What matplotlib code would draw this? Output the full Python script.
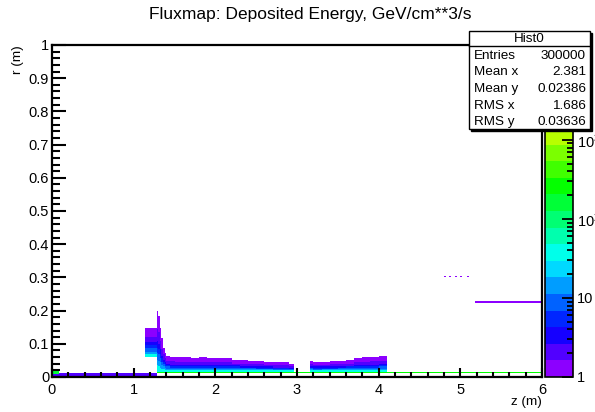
import colorsys
import matplotlib
matplotlib.use("Agg")
import matplotlib.pyplot as plt
import numpy as np
from matplotlib.colors import ListedColormap, LogNorm
from matplotlib.patches import Rectangle
from matplotlib.ticker import MultipleLocator, LogLocator, FixedLocator, NullFormatter

plt.rcParams['font.family'] = ['Liberation Sans', 'DejaVu Sans']

# ---- data ----
# histogram binning (z along beam, r radial), metres
z_edges = np.arange(0, 6.0001, 0.02)
r_edges = np.arange(0, 1.0001, 0.004)

# colour levels of the deposit from the inner edge outwards
band_levels = [40, 15, 8, 5, 3.5, 2.5, 1.8, 1.4, 1.2, 1.05]

# main deposit after the collimator: step start (z) and upper edge (r)
dep1_z = [1.28, 1.30, 1.32, 1.34, 1.36, 1.38, 1.40, 1.45, 1.50, 1.60, 1.70, 1.80,
          1.90, 2.00, 2.10, 2.20, 2.30, 2.40, 2.50, 2.60, 2.70, 2.80, 2.90]
dep1_top = [0.200, 0.185, 0.150, 0.115, 0.090, 0.072, 0.063, 0.060, 0.058, 0.058,
            0.057, 0.058, 0.057, 0.057, 0.055, 0.053, 0.051, 0.050, 0.048, 0.046,
            0.044, 0.042, 0.040]
dep1_end = 2.96

# second deposit
dep2_z = [3.16, 3.20, 3.30, 3.40, 3.50, 3.60, 3.70, 3.80, 3.90, 4.00]
dep2_top = [0.050, 0.045, 0.046, 0.048, 0.050, 0.052, 0.055, 0.058, 0.060, 0.063]
dep2_end = 4.10

# block in front of the collimator
block_z = [1.14, 1.28]
block_r = [0.060, 0.148]

# thin lines: (z start, z end, r low, r high, counts)
lines = [
    (0.00, 1.28, 0.004, 0.012, 2.0),
    (0.00, 0.08, 0.008, 0.020, 200.0),
    (1.28, 6.00, 0.012, 0.016, 250.0),
    (5.18, 6.00, 0.224, 0.228, 1.3),
]

# isolated hits
dots_z = [4.82, 4.88, 4.96, 5.02, 5.10]
dots_r = [0.301, 0.301, 0.301, 0.301, 0.301]

# statistics box
stats_names = ["Entries", "Mean x", "Mean y", "RMS x", "RMS y"]
stats_values = ["300000", "2.381", "0.02386", "1.686", "0.03636"]

# ---- fill histogram ----
zc = 0.5 * (z_edges[:-1] + z_edges[1:])
rc = 0.5 * (r_edges[:-1] + r_edges[1:])
H = np.zeros((len(zc), len(rc)))


def fill_band(kz, ktop, zend, r0):
    kz = np.asarray(kz)
    for i, z in enumerate(zc):
        if z < kz[0] or z > zend:
            continue
        top = ktop[np.searchsorted(kz, z, side='right') - 1]
        for j, r in enumerate(rc):
            if r0 <= r < top:
                f = (r - r0) / (top - r0)
                H[i, j] = max(H[i, j], band_levels[int(f * len(band_levels))])


fill_band(dep1_z, dep1_top, dep1_end, 0.016)
fill_band(dep2_z, dep2_top, dep2_end, 0.016)
fill_band(block_z[:1], [block_r[1]], block_z[1], block_r[0])

for z0, z1, r0, r1, c in lines:
    m = ((zc >= z0) & (zc < z1))[:, None] & ((rc >= r0) & (rc < r1))[None, :]
    H[m] = np.maximum(H[m], c)

for z, r in zip(dots_z, dots_r):
    H[np.searchsorted(z_edges, z) - 1, np.searchsorted(r_edges, r) - 1] = 1.0

Hm = np.ma.masked_less(H.T, 1.0)

# rainbow palette, 20 contours
ncont = 20
cols = [colorsys.hls_to_rgb((280 - (k + 0.5) * 14) / 360.0, 0.5, 1.0) for k in range(ncont)]
cmap = ListedColormap(cols)
cmap.set_bad('white')
norm = LogNorm(vmin=1, vmax=10 ** 4.2)

# ---- figure ----
W, Hpx = 595, 412
fig = plt.figure(figsize=(W / 100, Hpx / 100), dpi=100)


def fx(x):
    return x / W


def fy(y):
    return 1 - y / Hpx


ax = fig.add_axes([fx(52), fy(377), fx(542) - fx(52), fy(45) - fy(377)])
ax.pcolormesh(z_edges, r_edges, Hm, cmap=cmap, norm=norm)
ax.set_xlim(0, 6)
ax.set_ylim(0, 1)

ax.xaxis.set_major_locator(MultipleLocator(1))
ax.xaxis.set_minor_locator(MultipleLocator(0.2))
ax.yaxis.set_major_locator(MultipleLocator(0.1))
ax.yaxis.set_minor_locator(MultipleLocator(0.02))
ax.xaxis.set_major_formatter(plt.FuncFormatter(lambda v, p: f"{v:g}"))
ax.yaxis.set_major_formatter(plt.FuncFormatter(lambda v, p: f"{v:g}"))
ax.tick_params(axis='x', which='major', direction='in', length=6.5, width=1.5,
               labelsize=10.5, pad=4)
ax.tick_params(axis='x', which='minor', direction='in', length=3.5, width=1.5)
ax.tick_params(axis='y', which='major', direction='in', length=10, width=1.5,
               labelsize=10.5, pad=2)
ax.tick_params(axis='y', which='minor', direction='in', length=5.5, width=1.5)
for s in ax.spines.values():
    s.set_linewidth(1.6)

# colour scale
cax = fig.add_axes([fx(545), fy(377), fx(573) - fx(545), fy(45) - fy(377)])
cb = fig.colorbar(plt.cm.ScalarMappable(norm=norm, cmap=cmap), cax=cax)
cb.outline.set_linewidth(1.2)
cb.ax.yaxis.set_major_locator(FixedLocator([1, 10, 100, 1000]))
cb.ax.yaxis.set_major_formatter(plt.FuncFormatter(
    lambda v, p: "1" if v == 1 else (r"10" if v == 10 else r"$\mathdefault{10^{%d}}$" % round(np.log10(v)))))
cb.ax.yaxis.set_minor_locator(LogLocator(base=10, subs=np.arange(2, 10)))
cb.ax.yaxis.set_minor_formatter(NullFormatter())
cb.ax.tick_params(which='major', direction='in', length=8, width=1.3,
                  labelsize=10.5, pad=3)
cb.ax.tick_params(which='minor', direction='in', length=4.5, width=1.3)

# titles
fig.text(fx(310), fy(15), "Fluxmap: Deposited Energy, GeV/cm**3/s",
         ha='center', va='center', fontsize=12.5)
fig.text(fx(18), fy(45), "r (m)", rotation=90, ha='center', va='top', fontsize=9.7)
fig.text(fx(542), fy(402), "z (m)", ha='right', va='center', fontsize=9.7)

# statistics box
bx0, bx1, by0, by1 = 469, 590, 31, 129
fig.patches.append(Rectangle((fx(bx0 + 2), fy(by1 + 2)), fx(bx1) - fx(bx0),
                             fy(by0) - fy(by1), transform=fig.transFigure,
                             facecolor='black', edgecolor='black', zorder=5))
fig.patches.append(Rectangle((fx(bx0), fy(by1)), fx(bx1) - fx(bx0),
                             fy(by0) - fy(by1), transform=fig.transFigure,
                             facecolor='white', edgecolor='black', lw=1.0, zorder=6))
fig.lines.append(plt.Line2D([fx(bx0), fx(bx1)], [fy(46), fy(46)],
                            transform=fig.transFigure, color='black', lw=1.0, zorder=7))
fig.text(fx((bx0 + bx1) / 2), fy(38.5), "Hist0", ha='center', va='center',
         fontsize=9.7, zorder=8)
rows_y = [56, 72, 89, 106, 122]
for name, val, y in zip(stats_names, stats_values, rows_y):
    fig.text(fx(474), fy(y), name, ha='left', va='center', fontsize=9.7, zorder=8)
    fig.text(fx(586), fy(y), val, ha='right', va='center', fontsize=9.7, zorder=8)

fig.savefig("out.png", dpi=100)
